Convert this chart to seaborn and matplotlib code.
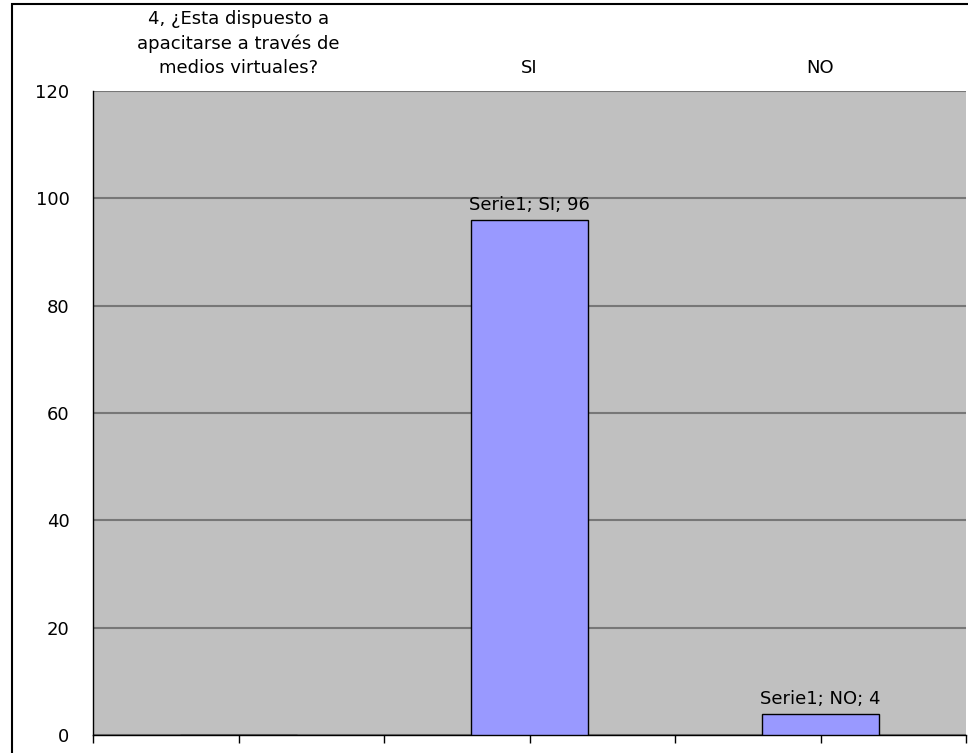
import matplotlib
matplotlib.use('Agg')
import matplotlib.pyplot as plt
import seaborn as sns
import pandas as pd
from matplotlib.patches import Rectangle

# ── Data ──────────────────────────────────────────────
categories = ['4, ¿Esta dispuesto a\napacitarse a través de\nmedios virtuales?', 'SI', 'NO']
series_name = 'Serie1'
values = [0, 96, 4]
bar_labels = ['', 'SI', 'NO']
y_ticks = [0, 20, 40, 60, 80, 100, 120]

df = pd.DataFrame({'cat': categories, 'val': values})

sns.set_style('white')
plt.rcParams['font.family'] = ['DejaVu Sans']
plt.rcParams['text.color'] = 'black'
plt.rcParams['xtick.labelcolor'] = 'black'
plt.rcParams['ytick.labelcolor'] = 'black'

fig = plt.figure(figsize=(9.68, 7.53), dpi=100)
ax = fig.add_axes([93 / 968, 1 - 735 / 753, 873 / 968, (735 - 91) / 753])
ax.set_facecolor('#C0C0C0')

sns.barplot(data=df, x='cat', y='val', ax=ax, color='#9999FF', width=0.4,
            edgecolor='black', linewidth=1.0, saturation=1, zorder=3)

# data labels
for i, (v, lab) in enumerate(zip(values, bar_labels)):
    if lab:
        ax.text(i, v + 1.0, f'{series_name}; {lab}; {v}', ha='center', va='bottom',
                fontsize=13, color='black', zorder=4)

ax.set_ylim(0, 120)
ax.set_xlim(-0.5, 2.5)
ax.set_yticks(y_ticks)
ax.yaxis.grid(True, color='#777777', linewidth=1.5, zorder=0)
ax.set_axisbelow(True)

ax.set_xticks([0, 1, 2])
ax.set_xticklabels(categories, fontsize=13, linespacing=1.45)
ax.set_xticks([-0.5, 0.5, 1.5, 2.5], minor=True)
ax.tick_params(axis='x', which='both', bottom=True, top=False, labelbottom=False,
               labeltop=True, direction='out', length=6, width=1, color='black', pad=4)
ax.tick_params(axis='y', direction='out', length=6, width=1, color='black',
               labelsize=13, pad=11)
ax.set_xlabel('')
ax.set_ylabel('')

for s in ['top', 'right']:
    ax.spines[s].set_visible(False)
ax.spines['left'].set_color('black')
ax.spines['bottom'].set_color('black')
ax.spines['left'].set_linewidth(1.0)
ax.spines['bottom'].set_linewidth(1.0)

# outer chart frame
fig.add_artist(Rectangle((12 / 968, -0.05), 1.2, 0.05 + 1 - 4 / 753,
                         transform=fig.transFigure, fill=False,
                         edgecolor='black', linewidth=1.5))

fig.savefig('out.png', dpi=100)
